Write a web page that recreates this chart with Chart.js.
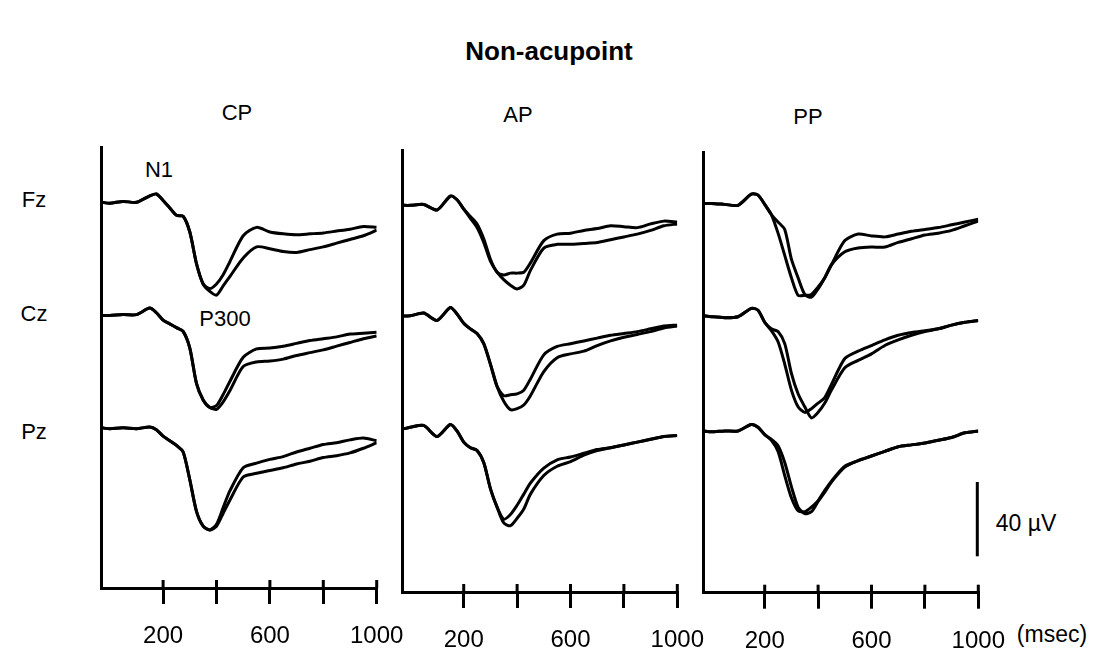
<!DOCTYPE html>
<html>
<head>
<meta charset="utf-8">
<script src="https://cdn.jsdelivr.net/npm/chart.js@4.4.0/dist/chart.umd.min.js"></script>
<style>
  body { margin: 0; width: 1097px; height: 652px; background: #fff; position: relative; overflow: hidden;
         font-family: "Liberation Sans", Arial, sans-serif; color: #000; }
  .lbl { position: absolute; transform: translate(-50%, -50%); white-space: nowrap; font-size: 22px; }
  .box { position: absolute; }
</style>
</head>
<body>
<script>
// time axis (msec), shared by every trace
const times = [-30, 0, 50, 100, 150, 175, 200, 225, 250, 275, 300, 325, 350, 375, 400, 425, 450, 500, 550, 600, 650, 700, 750, 800, 850, 900, 950, 1000];

// amplitudes in µV (positive plotted downward), two conditions per electrode
const cpFzA = [0, 0.5, -0.5, 0, -3.5, -4.5, -1, 3, 7, 7.5, 16, 33, 44, 46.5, 44, 39, 32, 18, 13.5, 16, 17, 17.5, 17, 16.5, 15.5, 14.5, 13, 13.5];
const cpFzB = [0, 0.5, -0.5, 0, -3.5, -4.5, -1, 3, 7, 7.5, 16, 33, 44, 48, 50, 45, 40, 30, 24, 25, 26.5, 27, 25.5, 24, 22, 20, 18, 15];
const cpCzA = [0.5, 0.5, 0, 0, -3.5, -1, 3, 5, 7, 9, 18, 37, 46, 50, 49, 43, 36, 23, 18.5, 18, 17, 15.5, 14, 13, 12, 10.5, 10, 9.5];
const cpCzB = [0.5, 0.5, 0, 0, -3.5, -1, 3, 5, 7, 9, 18, 37, 46, 50, 51, 47, 41, 28, 25.5, 25, 24, 22, 20.5, 19, 17, 15, 13, 11.5];
const cpPzA = [0, 0.5, 0, 0.5, -0.5, 1, 4.5, 7, 9.5, 13, 28, 45, 53, 55, 52, 43, 34, 21.5, 19, 17, 15.5, 13, 11, 9, 8, 6.5, 5.5, 7];
const cpPzB = [0, 0.5, 0, 0.5, -0.5, 1, 4.5, 7, 9.5, 13, 28, 45, 53, 55, 53, 46, 39, 26.5, 24.5, 23, 21.5, 19.5, 18, 16, 15, 13.5, 11, 8];

const apFzA = [1, 1, 0.5, 3.5, -4, -2, 3, 7, 11, 19, 30, 37, 38.5, 37.5, 37.5, 37, 32, 20, 16.5, 16, 14.5, 13.5, 12, 12.5, 13, 11, 9.5, 10];
const apFzB = [1, 1, 0.5, 3.5, -4, -2, 3, 8, 13, 21, 31, 37, 41, 44, 46, 44, 36, 24, 22, 22, 21.5, 21, 19.5, 18, 16.5, 14.5, 12, 11];
const apCzA = [0, 0, -1.5, 2.5, -4.5, -1, 4, 7, 9.5, 15, 26, 38, 43, 42.5, 42, 40, 34, 21, 16.5, 15, 13.5, 12, 10.5, 9.5, 8.5, 7, 5.5, 5];
const apCzB = [0, 0, -1.5, 2.5, -4.5, -1, 4, 7, 9.5, 15, 26, 38, 46, 50.5, 50, 48, 43, 30, 22.5, 20.5, 19, 16, 13.5, 11.5, 10, 8.5, 6.5, 5.5];
const apPzA = [0, -1, -2, 4, -2.5, 1, 7, 10, 11.5, 18, 32, 42, 48.5, 46, 41, 35, 29, 21, 16.5, 15, 13, 11, 10, 8.5, 7, 5.5, 4, 3.5];
const apPzB = [0, -1, -2, 4, -2.5, 1, 7, 10, 11.5, 18, 32, 42, 50.5, 52, 48, 43, 35, 25, 20, 17.5, 14, 11.5, 10, 8.5, 7, 5.5, 4, 3.5];

const ppFzA = [0, 0, 0.5, 1, -5, -4.5, 0.5, 6, 16, 28, 40, 49.5, 49.5, 49, 45, 40, 33, 20, 16.5, 17.5, 18, 16.5, 15, 14, 13, 11.5, 10, 8.5];
const ppFzB = [0, 0, 0.5, 1, -5, -4.5, 0.5, 6, 10, 14, 30, 40, 49, 50.5, 46, 40, 33, 26, 24, 23.5, 23.5, 21, 19, 17, 16, 14.5, 12, 9.5];
const ppCzA = [0, 0.5, 1, 0.5, -4, -3, 3.5, 8, 14, 26, 40, 49, 52, 50, 47, 44, 37, 23, 19, 16, 13, 10.5, 9, 8, 7, 5, 3.5, 2.5];
const ppCzB = [0, 0.5, 1, 0.5, -4, -3, 3.5, 7, 8.5, 15, 31, 42, 49, 55, 52, 47, 40, 28, 24, 20.5, 16, 13, 10.5, 8.5, 7, 5, 3.5, 2.5];
const ppPzA = [1, 1.5, 1, 1, -2.5, -1, 3, 6, 12, 25, 37, 44, 44.5, 42, 38.5, 33, 28, 20, 17, 14.5, 12, 9.5, 8.5, 7.5, 6, 4.5, 2, 1];
const ppPzB = [1, 1.5, 1, 1, -2.5, -1, 3, 5.5, 9, 18, 31, 42, 45.5, 44.5, 39, 34, 28.5, 20.5, 17, 14.5, 12, 9.5, 8.5, 7.5, 6, 4.5, 2, 1];

// vertical offset (µV) of Fz, Cz, Pz rows
const rowOffsets = [0, 60.5, 121.5];

const xTicks = [200, 400, 600, 800, 1000];
const xLabels = [200, 600, 1000];
const xMin = -30;
const xMax = 1000;

// calibration bar
const barFrom = 150;
const barSize = 40;

Chart.defaults.color = "#000";
Chart.defaults.font.family = "'Liberation Sans', Arial, sans-serif";

const plotWidth = 275;
const tickLen = 16;
const tickPad = 18;
const tickFont = 24;

const panels = [
  { left: 101.7, top: 147, bottom: 586, yMin: -29.8, yMax: 207.8, rows: [[cpFzA, cpFzB], [cpCzA, cpCzB], [cpPzA, cpPzB]] },
  { left: 402.3, top: 150, bottom: 590, yMin: -28.8, yMax: 209.2, rows: [[apFzA, apFzB], [apCzA, apCzB], [apPzA, apPzB]] },
  { left: 703.3, top: 152, bottom: 590.7, yMin: -27.7, yMax: 209.6, rows: [[ppFzA, ppFzB], [ppCzA, ppCzB], [ppPzA, ppPzB]], bar: true },
];

const labels = [
  { text: "Non-acupoint", x: 549, y: 51, size: 26, bold: true },
  { text: "CP", x: 237, y: 113 },
  { text: "AP", x: 518, y: 115 },
  { text: "PP", x: 808, y: 117 },
  { text: "Fz", x: 34, y: 200 },
  { text: "Cz", x: 34, y: 314 },
  { text: "Pz", x: 34, y: 432 },
  { text: "N1", x: 159, y: 170 },
  { text: "P300", x: 225, y: 319 },
  { text: "40 µV", x: 1026, y: 523, size: 23 },
  { text: "(msec)", x: 1052, y: 634, size: 23 },
];

// tick marks cross the x axis: add the part above the line
const tickCross = {
  id: "tickCross",
  afterDraw(chart) {
    const sx = chart.scales.x;
    const ctx = chart.ctx;
    ctx.save();
    ctx.strokeStyle = "#000";
    ctx.lineWidth = 3;
    sx.ticks.forEach((t) => {
      const px = sx.getPixelForValue(t.value);
      ctx.beginPath();
      ctx.moveTo(px, sx.top - 8);
      ctx.lineTo(px, sx.top);
      ctx.stroke();
    });
    ctx.restore();
  },
};

const scaleBar = {
  id: "scaleBar",
  afterDraw(chart, args, opts) {
    if (!opts.show) return;
    const sy = chart.scales.y;
    const px = chart.chartArea.right - 1;
    const ctx = chart.ctx;
    ctx.save();
    ctx.strokeStyle = "#000";
    ctx.lineWidth = 3;
    ctx.beginPath();
    ctx.moveTo(px, sy.getPixelForValue(barFrom));
    ctx.lineTo(px, sy.getPixelForValue(barFrom + barSize));
    ctx.stroke();
    ctx.restore();
  },
};

function addLabels() {
  labels.forEach((l) => {
    const d = document.createElement("div");
    d.className = "lbl";
    d.textContent = l.text;
    d.style.left = l.x + "px";
    d.style.top = l.y + "px";
    if (l.size) d.style.fontSize = l.size + "px";
    if (l.bold) d.style.fontWeight = "bold";
    document.body.appendChild(d);
  });
}

function drawPanel(p) {
  const boxLeft = Math.round(p.left - 30);
  const boxTop = Math.round(p.top - 17);
  const padLeft = p.left - boxLeft;
  const padTop = p.top - boxTop;
  const padRight = 48;
  const w = Math.round(padLeft + plotWidth + padRight);
  const h = 652 - boxTop;
  // measured: the x axis box comes out taller than tick + pad + line height
  const axisHeight = tickLen + tickPad + tickFont * 1.2 + 20;
  const padBottom = h - padTop - (p.bottom - p.top) - axisHeight;

  const box = document.createElement("div");
  box.className = "box";
  box.style.left = boxLeft + "px";
  box.style.top = boxTop + "px";
  const canvas = document.createElement("canvas");
  canvas.width = w;
  canvas.height = h;
  box.appendChild(canvas);
  document.body.appendChild(box);

  let datasets = [];
  p.rows.forEach((pair, r) => {
    pair.forEach((vals) => {
      datasets.push({
        data: times.map((t, k) => ({ x: t, y: vals[k] + rowOffsets[r] })),
        borderColor: "#000",
        borderWidth: 3,
        pointRadius: 0,
        tension: 0.25,
        fill: false,
      });
    });
  });

  new Chart(canvas, {
    type: "line",
    data: { datasets: datasets },
    plugins: [tickCross, scaleBar],
    options: {
      responsive: false,
      animation: false,
      layout: { padding: { left: padLeft, right: w - padLeft - plotWidth, top: padTop, bottom: padBottom } },
      plugins: {
        legend: { display: false },
        tooltip: { enabled: false },
        scaleBar: { show: !!p.bar },
      },
      scales: {
        x: {
          type: "linear",
          min: xMin,
          max: xMax,
          afterBuildTicks: (s) => { s.ticks = xTicks.map((v) => ({ value: v })); },
          border: { display: true, color: "#000", width: 3 },
          grid: { display: true, drawOnChartArea: false, drawTicks: true, tickLength: tickLen, color: "#000", lineWidth: 3 },
          ticks: {
            padding: tickPad,
            autoSkip: false,
            maxRotation: 0,
            font: { size: tickFont },
            callback: (v) => (xLabels.includes(v) ? String(v) : ""),
          },
        },
        y: {
          type: "linear",
          reverse: true,
          min: p.yMin,
          max: p.yMax,
          border: { display: true, color: "#000", width: 3 },
          grid: { display: false, drawTicks: false },
          ticks: { display: false },
        },
      },
    },
  });
}

addLabels();
panels.forEach(drawPanel);
</script>
</body>
</html>
